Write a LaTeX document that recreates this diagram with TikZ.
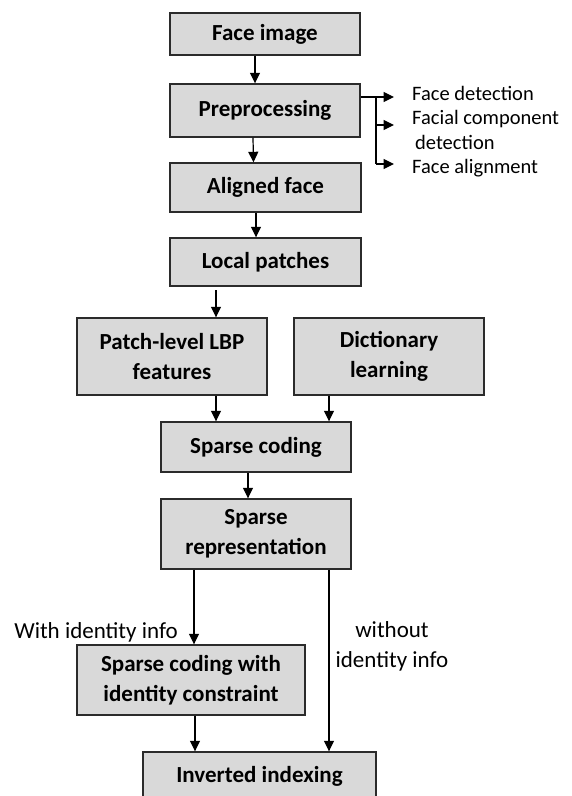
\documentclass[tikz,border=0pt]{standalone}
\usepackage{fontspec}
\setmainfont{Carlito}
\usetikzlibrary{arrows.meta}
\definecolor{boxfill}{HTML}{D9D9D9}
\definecolor{boxline}{HTML}{2B2B2B}
\begin{document}
\begin{tikzpicture}[x=1pt,y=-1pt,
  stepbox/.style={draw=boxline,line width=1.4pt,fill=boxfill,inner sep=0pt,
    align=center,font=\fontsize{23}{30}\selectfont\bfseries},
  arr/.style={line width=1.2pt,-{Triangle[width=10pt,length=10.5pt]}},
  plain/.style={line width=1.2pt},
  note/.style={inner sep=0pt,font=\fontsize{20.5}{25}\selectfont},
  branch/.style={inner sep=0pt,font=\fontsize{23}{30}\selectfont}]
\useasboundingbox (0,0) rectangle (571,796);
\clip (0,0) rectangle (571,796);

% main pipeline boxes
\node[stepbox,minimum width=190pt,minimum height=42pt] (fimg) at (265,34) {Face image};
\node[stepbox,minimum width=190pt,minimum height=53pt] (prep) at (265,110.5) {Preprocessing};
\node[stepbox,minimum width=191pt,minimum height=49pt] (align) at (265.5,187.5) {Aligned face};
\node[stepbox,minimum width=191pt,minimum height=48pt] (local) at (265.5,262) {Local patches};
\node[stepbox,minimum width=190pt,minimum height=77pt] (lbp) at (172,356.5) {Patch-level LBP\\features};
\node[stepbox,minimum width=190pt,minimum height=77pt] (dict) at (389,356.5) {Dictionary\\learning};
\node[stepbox,minimum width=190pt,minimum height=50pt] (scode) at (256,447) {Sparse coding};
\node[stepbox,minimum width=190pt,minimum height=70pt] (srep) at (256,534) {Sparse\\representation};
\node[stepbox,minimum width=228pt,minimum height=70pt] (scid) at (191,680) {Sparse coding with\\identity constraint};
\node[stepbox,minimum width=233pt,minimum height=48pt] (inv) at (259.5,776) {Inverted indexing};

% preprocessing sub-steps
\node[note,anchor=base west] (fd) at (412,100) {Face detection};
\node[note,anchor=base west,align=left] (fcd) at (412,149) {Facial component\\\hspace{3pt}detection};
\node[note,anchor=base west] (fa) at (412,173.5) {Face alignment};
\coordinate (split) at (376,97);
\coordinate (t1) at (394,97);
\coordinate (t2) at (394,125);
\coordinate (t3) at (394,164);
\draw[arr] ([yshift=13.5pt]prep.east) -- (t1);
\draw[plain] (split) -- (split |- t3);
\draw[arr] (split |- t2) -- (t2);
\draw[arr] (split |- t3) -- (t3);

% branch labels
\node[branch] (withid) at (96,632) {With identity info};
\node[branch,align=center] (withoutid) at (392,646) {without\\identity info};

% connectors
\draw[arr] ([xshift=-10pt]fimg.south) -- ([xshift=-10pt]prep.north);
\draw[arr] ([xshift=-12pt]prep.south) -- ([xshift=-12pt]align.north);
\draw[arr] ([xshift=-9.5pt]align.south) -- ([xshift=-9.5pt]local.north);
\coordinate (lpout) at (216,290);
\draw[arr] (lpout) -- (lpout |- lbp.north);
\draw[arr] ([xshift=44pt]lbp.south) coordinate (a1) -- (a1 |- scode.north);
\draw[arr] ([xshift=-60pt]dict.south) coordinate (a2) -- (a2 |- scode.north);
\draw[arr] ([xshift=-8pt]scode.south) coordinate (a3) -- (a3 |- srep.north);
\draw[arr] ([xshift=-62pt]srep.south) coordinate (a4) -- (a4 |- scid.north);
\draw[arr] ([xshift=73pt]srep.south) coordinate (a5) -- (a5 |- inv.north);
\draw[arr] ([xshift=4pt]scid.south) coordinate (a6) -- (a6 |- inv.north);
\end{tikzpicture}
\end{document}
